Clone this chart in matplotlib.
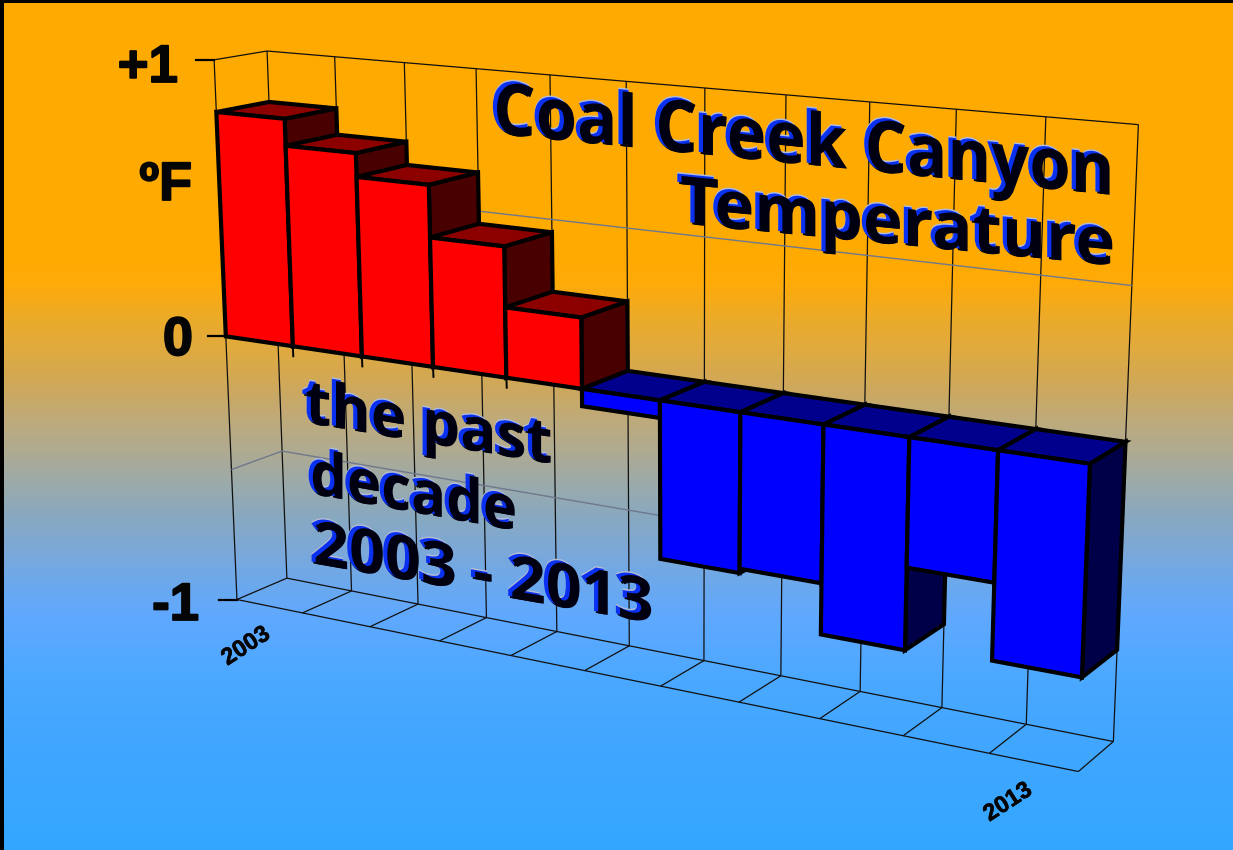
import numpy as np
import matplotlib
matplotlib.use("Agg")
import matplotlib.pyplot as plt
from matplotlib.patches import Polygon
from matplotlib.path import Path
from matplotlib.transforms import IdentityTransform
from matplotlib.colors import LinearSegmentedColormap
import matplotlib.patheffects as pe

# ---- data ----
years = [2003, 2004, 2005, 2006, 2007, 2008, 2009, 2010, 2011, 2012, 2013]
anomaly = [0.815, 0.72, 0.637, 0.455, 0.245, -0.06, -0.548, -0.533, -0.708, -0.43, -0.688]
year_labels = ["2003", "2013"]
y_labels = ["+1", "0", "-1"]
title_lines = ["Coal Creek Canyon", "Temperature"]
sub_lines = ["the past", "decade", "2003 - 2013"]

W, H = 1233, 850

# ---- camera calibration: (bar slot, value, depth) -> pixel ----
calib = [
    (0, 1, 0, 214, 61), (0, 0, 0, 226, 337), (0, -1, 0, 237, 599),
    (11, 0, 0, 1090, 463), (11, -1, 0, 1078, 772),
    (1, -1, 0, 305, 614), (2, -1, 0, 373, 627), (3, -1, 0, 441, 642), (4, -1, 0, 510, 656),
    (5, -1, 0, 587, 672), (6, -1, 0, 661, 686), (7, -1, 0, 740, 703), (8, -1, 0, 821.5, 720),
    (9, -1, 0, 904, 736), (10, -1, 0, 990, 753),
    (1, 0, 0, 292, 345), (2, 0, 0, 361, 355), (3, 0, 0, 432, 365), (4, 0, 0, 505, 377), (5, 0, 0, 580, 388),
    (6, 0, 0, 658, 400), (7, 0, 0, 739, 412), (8, 0, 0, 822, 424), (9, 0, 0, 908, 437), (10, 0, 0, 997, 450),
    (0, 1, 1, 267, 51), (11, 1, 1, 1139, 124), (0, -1, 1, 287, 578), (11, -1, 1, 1113, 740), (11, 0, 1, 1126, 441),
    (1, -1, 1, 351, 591), (2, -1, 1, 417.5, 604), (3, -1, 1, 485, 617), (4, -1, 1, 555, 632), (5, -1, 1, 628, 646),
    (6, -1, 1, 704, 660), (7, -1, 1, 781, 676), (8, -1, 1, 860.5, 692), (9, -1, 1, 941, 707), (10, -1, 1, 1026, 724),
    (1, 1, 1, 335, 57), (2, 1, 1, 404, 62), (3, 1, 1, 477, 68), (4, 1, 1, 550, 75), (5, 1, 1, 626.5, 81),
    (6, 1, 1, 706, 89), (7, 1, 1, 787, 95), (8, 1, 1, 871, 103), (9, 1, 1, 957, 111), (10, 1, 1, 1046.6, 118),
]
A = []
for s, v, d, px, py in calib:
    X = np.array([s / 11, v, d, 1.0])
    u, w = px / 1000, py / 1000
    A.append(np.r_[X, np.zeros(4), -u * X])
    A.append(np.r_[np.zeros(4), X, -w * X])
P = np.linalg.svd(np.array(A))[2][-1].reshape(3, 4)


def proj(s, v, d):
    h = P @ np.array([s / 11, v, d, 1.0])
    return (1000 * h[0] / h[2], 1000 * h[1] / h[2])


def pline(ax, a, b, **kw):
    p, q = proj(*a), proj(*b)
    ax.plot([p[0], q[0]], [p[1], q[1]], solid_capstyle="butt", **kw)


fig = plt.figure(figsize=(W / 100, H / 100), dpi=100)
ax = fig.add_axes([0, 0, 1, 1])
ax.set_xlim(0, W)
ax.set_ylim(H, 0)
ax.axis("off")

# background gradient, (pixel row, colour)
rows = [(0, "#ffaa00"), (250, "#ffaa00"), (283, "#ffaa08"), (317, "#ecaa28"), (350, "#e0aa40"), (383, "#d0a858"),
        (417, "#c0aa78"), (450, "#b0aa90"), (483, "#9cabaa"), (517, "#88a8c0"), (550, "#7ca8d8"), (583, "#6ca8ec"),
        (617, "#60a8ff"), (683, "#4aa8ff"), (750, "#40a6ff"), (850, "#33a6ff")]
cmap = LinearSegmentedColormap.from_list("bg", [(r / H, c) for r, c in rows], N=850)
ax.imshow(np.linspace(0, 1, 850)[:, None], cmap=cmap, extent=(0, W, H, 0), aspect="auto", zorder=0, vmin=0, vmax=1)
ax.set_xlim(0, W)
ax.set_ylim(H, 0)
# black frame, top and left
ax.add_patch(plt.Rectangle((0, 0), W, 3, color="black", lw=0, zorder=1))
ax.add_patch(plt.Rectangle((0, 0), 4, H, color="black", lw=0, zorder=1))

# wall grid
grid = dict(color="#101010", lw=0.9, zorder=2)
n = len(years)
for s in range(n + 1):
    pline(ax, (s, 1, 1), (s, -1, 1), **grid)
    pline(ax, (s, -1, 0), (s, -1, 1), **grid)
pline(ax, (0, 1, 0), (0, -1, 0), **grid)
pline(ax, (0, 1, 0), (0, 1, 1), **grid)
pline(ax, (0, 1, 1), (n, 1, 1), **grid)
pline(ax, (0, -1, 0), (n, -1, 0), **grid)
pline(ax, (0, -1, 1), (n, -1, 1), **grid)
for v in (0.5, -0.5):
    g = dict(color="#70788c", lw=1.0, zorder=2)
    pline(ax, (0, v, 0), (0, v, 1), **g)
    pline(ax, (0, v, 1), (n, v, 1), **g)

# value ticks and stubs under the bars
for v in (1, 0, -1):
    p = proj(0, v, 0)
    ax.plot([p[0] - 18, p[0]], [p[1], p[1]], color="black", lw=1.6, zorder=2)
for s in range(1, 5):
    p = proj(s, 0, 0)
    ax.plot([p[0], p[0] + 0.4], [p[1], p[1] + 10], color="black", lw=1.4, zorder=2)

# bars, left to right
edge = dict(edgecolor="black", linewidth=3.0, joinstyle="miter")
for i, val in enumerate(anomaly):
    front, top, side = (("#ff0000", "#8c0000", "#480000") if val > 0 else ("#0000ff", "#00008c", "#000048"))
    hi = max(val, 0)
    lo = min(val, 0)
    z = 3 + i * 0.01
    ax.add_patch(Polygon([proj(i + 1, lo, 0), proj(i + 1, lo, 1), proj(i + 1, hi, 1), proj(i + 1, hi, 0)],
                         facecolor=side, zorder=z, **edge))
    ax.add_patch(Polygon([proj(i, hi, 0), proj(i, hi, 1), proj(i + 1, hi, 1), proj(i + 1, hi, 0)],
                         facecolor=top, zorder=z, **edge))
    ax.add_patch(Polygon([proj(i, lo, 0), proj(i + 1, lo, 0), proj(i + 1, hi, 0), proj(i, hi, 0)],
                         facecolor=front, zorder=z, **edge))

# axis text
lab = dict(family="Liberation Sans", fontweight="bold", color="#050505", zorder=6)
big = [pe.withStroke(linewidth=1.3, foreground="#050505")]
small = [pe.withStroke(linewidth=0.4, foreground="#050505")]
ax.text(178, 82, y_labels[0], fontsize=38, ha="right", va="baseline", path_effects=big, **lab)
ax.text(192, 200, "\u00baF", fontsize=39, ha="right", va="baseline", path_effects=big, **lab)
ax.text(193, 355, y_labels[1], fontsize=39, ha="right", va="baseline", path_effects=big, **lab)
ax.text(199, 620, y_labels[2], fontsize=38, ha="right", va="baseline", path_effects=big, **lab)
ax.text(246, 646, year_labels[0], fontsize=17, rotation=33, ha="center", va="center", rotation_mode="anchor",
        path_effects=small, **lab)
ax.text(1008, 802, year_labels[1], fontsize=17, rotation=33, ha="center", va="center", rotation_mode="anchor",
        path_effects=small, **lab)


class Bevel(pe.AbstractPathEffect):
    """Shears the glyphs so their baseline slopes while stems stay upright, and lays the bevel colours."""
    layers = [
        (1.8, -2.0, "#000008"),
        (0.0, 1.5, "#b4bcd4"),
        (0.0, 0.0, "#0a30f0"),
        (4.2, -2.4, "#000010"),
    ]

    def __init__(self, x0, y0, slope, sx):
        super().__init__()
        self.x0, self.y0, self.slope, self.sx = x0, H - y0, slope, sx

    def draw_path(self, renderer, gc, tpath, affine, rgbFace=None):
        v = affine.transform(tpath.vertices)
        u = v[:, 0] - self.x0
        warped = np.column_stack([self.x0 + u * self.sx, v[:, 1] - self.slope * u * self.sx])
        gc0 = renderer.new_gc()
        gc0.copy_properties(gc)
        gc0.set_linewidth(0)
        for dx, dy, c in self.layers:
            path = Path(warped + [dx, dy], tpath.codes)
            renderer.draw_path(gc0, path, IdentityTransform(), matplotlib.colors.to_rgb(c))
        gc0.restore()


def word(x, y, s, size, slope, sx):
    t = ax.text(x, y, s, fontsize=size, ha="left", va="baseline", family="Open Sans", fontweight="bold",
                color="#0a30f0", zorder=7)
    t.set_path_effects([Bevel(x, y, slope, sx)])


word(489, 131, title_lines[0], 52, 0.0995, 0.925)
word(676, 221, title_lines[1], 48, 0.097, 1.01)
word(301, 420, sub_lines[0], 44, 0.167, 0.985)
word(306, 491, sub_lines[1], 44, 0.18, 0.95)
word(309, 561, sub_lines[2], 44, 0.175, 1.03)

fig.savefig("out.png", dpi=100)
